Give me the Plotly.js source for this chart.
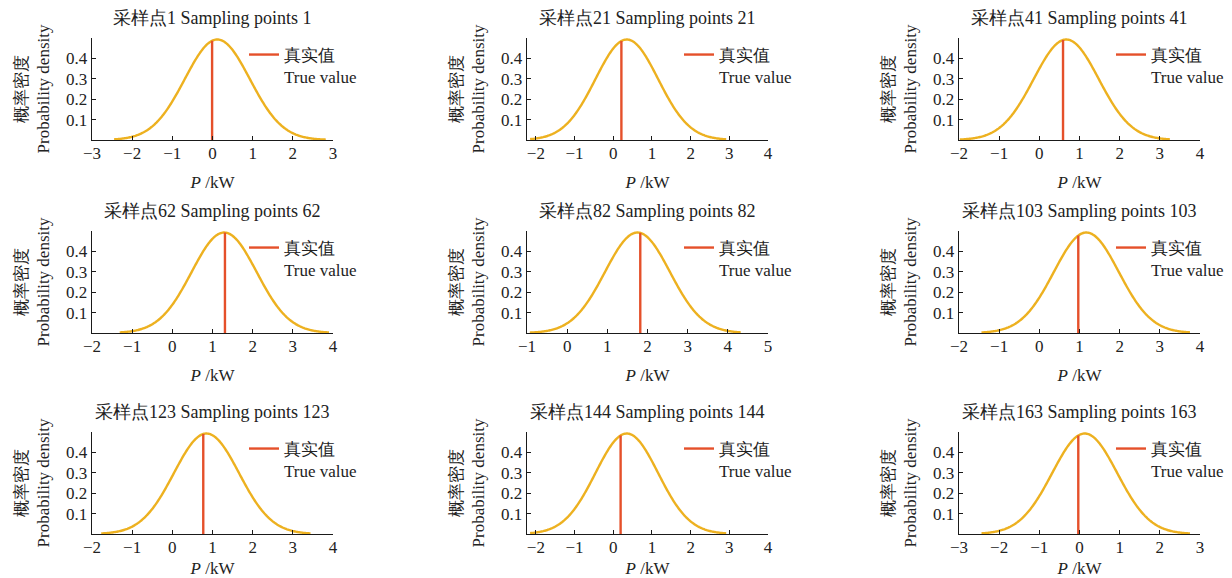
<!DOCTYPE html>
<html>
<head>
<meta charset="utf-8">
<script src="https://cdn.plot.ly/plotly-3.0.1.min.js"></script>
<style>
html,body{margin:0;padding:0;background:#fff;}
#chart{width:1232px;height:578px;}
#chart text{font-family:"Liberation Serif" !important;}
</style>
</head>
<body>
<div id="chart"></div>
<script>
// ---- data ----
const sampleIds = [1, 21, 41, 62, 82, 103, 123, 144, 163];
const meanKW    = [0.12, 0.35, 0.67, 1.29, 1.75, 1.17, 0.85, 0.35, 0.13];
const sigmaKW   = [0.81, 0.81, 0.81, 0.81, 0.81, 0.81, 0.81, 0.81, 0.81];
const trueKW    = [-0.01, 0.21, 0.59, 1.31, 1.82, 0.97, 0.77, 0.19, -0.03];
const curveFrom = [-2.45, -2.15, -1.98, -1.31, -0.93, -1.44, -1.77, -2.15, -2.44];
const curveTo   = [2.82, 2.92, 3.25, 3.90, 4.32, 3.75, 3.44, 2.92, 2.75];
const xMin      = [-3, -2.23, -2, -2, -1, -2, -2, -2.23, -3];
const xMax      = [3, 4, 4, 4, 5, 4, 4, 4, 3];
const yTicks    = [0.1, 0.2, 0.3, 0.4];
const legendCN  = '真实值';
const legendEN  = 'True value';
const yTitleCN  = '概率密度';
const yTitleEN  = 'Probability density';
const xTitle    = '<i>P</i> /kW';

// ---- layout ----
const W = 1232, H = 578;
const FONT = 'Liberation Serif';
const colLeft = [92, 527, 959];
const colWidth = 241;
const rowTop = [38, 231, 432];
const rowHeight = 102;
const CURVE = '#EDB120';
const TRUEC = '#E5502A';
const AX = '#1a1a1a';

function pdf(x, m, s) { return Math.exp(-0.5 * ((x - m) / s) ** 2) / (s * Math.sqrt(2 * Math.PI)); }

const traces = [];
const layout = {
  width: W, height: H,
  margin: {l: 0, r: 0, t: 0, b: 0},
  paper_bgcolor: '#fff', plot_bgcolor: '#fff',
  font: {family: FONT, size: 16, color: '#222'},
  annotations: [],
  showlegend: true
};

for (let i = 0; i < 9; i++) {
  const r = Math.floor(i / 3), c = i % 3;
  const sfx = i === 0 ? '' : String(i + 1);
  const xa = 'x' + sfx, ya = 'y' + sfx;
  const lg = 'legend' + sfx;
  const x0 = colLeft[c], y0 = rowTop[r];
  const n = 240;
  const xs = [], ys = [];
  for (let k = 0; k <= n; k++) {
    const x = curveFrom[i] + (curveTo[i] - curveFrom[i]) * k / n;
    xs.push(x); ys.push(pdf(x, meanKW[i], sigmaKW[i]));
  }
  traces.push({type: 'scatter', mode: 'lines', x: xs, y: ys, xaxis: xa, yaxis: ya,
    line: {color: CURVE, width: 2.4, simplify: false}, showlegend: false, hoverinfo: 'skip'});
  traces.push({type: 'scatter', mode: 'lines', x: [trueKW[i], trueKW[i]],
    y: [0, pdf(trueKW[i], meanKW[i], sigmaKW[i])], xaxis: xa, yaxis: ya,
    line: {color: TRUEC, width: 2.4}, name: legendCN + '<br>' + legendEN,
    showlegend: true, legend: lg});

  layout['xaxis' + sfx] = {
    domain: [x0 / W, (x0 + colWidth) / W], anchor: ya,
    range: [xMin[i], xMax[i]], dtick: 1, tick0: 0,
    showline: true, linecolor: AX, linewidth: 1.3,
    ticks: 'inside', ticklen: 4, tickcolor: AX, tickwidth: 1,
    ticklabelstandoff: -3,
    showgrid: false, zeroline: false, fixedrange: true,
    tickfont: {family: FONT, size: 17, color: '#222'},
    title: {text: xTitle, font: {family: FONT, size: 17, color: '#222'}, standoff: 14}
  };
  layout['yaxis' + sfx] = {
    domain: [1 - (y0 + rowHeight) / H, 1 - y0 / H], anchor: xa,
    range: [0, 0.5], tickvals: yTicks,
    showline: true, linecolor: AX, linewidth: 1.3,
    ticks: 'inside', ticklen: 4, tickcolor: AX, tickwidth: 1,
    showgrid: false, zeroline: false, fixedrange: true,
    tickfont: {family: FONT, size: 17, color: '#222'},
    title: {text: yTitleCN + '<br>' + yTitleEN, font: {family: FONT, size: 17, color: '#222'}, standoff: 12}
  };
  layout[lg] = {
    x: (x0 + 152) / W, y: 1 - (y0 - 1) / H, xanchor: 'left', yanchor: 'top',
    bgcolor: 'rgba(0,0,0,0)', borderwidth: 0, valign: 'top',
    font: {family: FONT, size: 17, color: '#222'}, itemwidth: 30
  };
  layout.annotations.push({
    text: '采样点' + sampleIds[i] + ' Sampling points ' + sampleIds[i],
    xref: xa + ' domain', yref: ya + ' domain', x: 0.5, y: 1,
    xanchor: 'center', yanchor: 'middle', yshift: 20, showarrow: false,
    font: {family: FONT, size: 18, color: '#222'}
  });
}

Plotly.newPlot('chart', traces, layout, {displayModeBar: false, staticPlot: true});
</script>
</body>
</html>
